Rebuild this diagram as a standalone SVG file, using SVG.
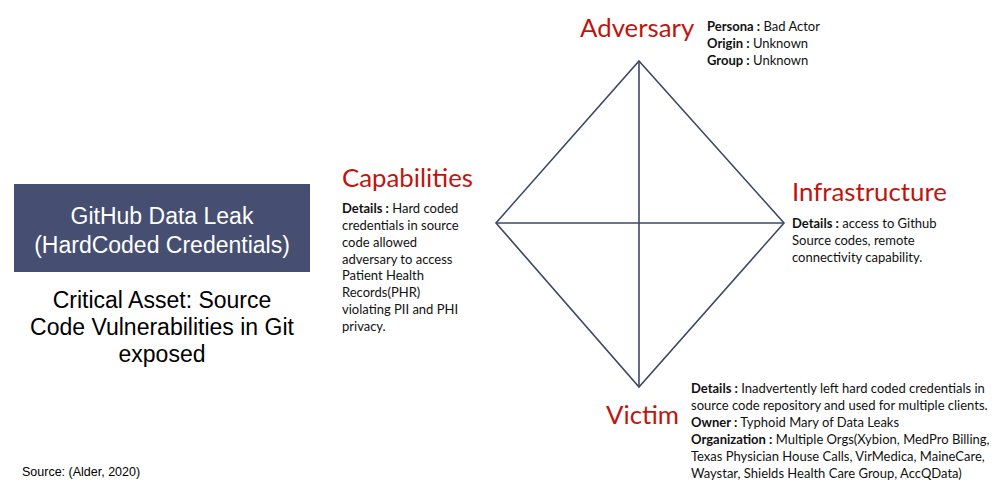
<svg xmlns="http://www.w3.org/2000/svg" width="1006" height="503" viewBox="0 0 1006 503">
<style>
.h{font-family:Lato,"Liberation Sans",sans-serif;fill:#C0150E;font-size:25.8px}
.d{font-family:Lato,"Liberation Sans",sans-serif;fill:#111;font-size:13px}
.b{font-weight:bold}
.a{font-family:"Liberation Sans",Arial,sans-serif}
.ln{stroke:#3C4768;stroke-width:1.6;fill:none}
</style>
<rect width="1006" height="503" fill="#fff"/>
<g id="connectors">
<polygon class="ln" points="639,61 784,223 639,387 496,223"/>
<line class="ln" x1="639" y1="61" x2="639" y2="387"/>
<line class="ln" x1="496" y1="223" x2="784" y2="223"/>
</g>
<g id="event">
<rect x="14" y="184" width="296" height="88" fill="#464F72"/>
<text class="a" x="162" y="224" font-size="23" fill="#fff" text-anchor="middle">GitHub Data Leak</text>
<text class="a" x="162" y="253" font-size="23" fill="#fff" text-anchor="middle">(HardCoded Credentials)</text>
</g>
<g id="asset">
<text class="a" x="162" y="308" font-size="23" fill="#000" text-anchor="middle">Critical Asset: Source</text>
<text class="a" x="162" y="335" font-size="23" fill="#000" text-anchor="middle">Code Vulnerabilities in Git</text>
<text class="a" x="162" y="362" font-size="23" fill="#000" text-anchor="middle">exposed</text>
</g>
<g id="adversary">
<text class="h" x="580" y="37">Adversary</text>
<text class="d" x="707" y="31"><tspan class="b">Persona :</tspan> Bad Actor</text>
<text class="d" x="707" y="48"><tspan class="b">Origin :</tspan> Unknown</text>
<text class="d" x="707" y="65"><tspan class="b">Group :</tspan> Unknown</text>
</g>
<g id="capabilities">
<text class="h" x="342" y="187">Capabilities</text>
<text class="d" x="342" y="213"><tspan class="b">Details :</tspan> Hard coded</text>
<text class="d" x="342" y="230">credentials in source</text>
<text class="d" x="342" y="247">code allowed</text>
<text class="d" x="342" y="264">adversary to access</text>
<text class="d" x="342" y="280">Patient Health</text>
<text class="d" x="342" y="297">Records(PHR)</text>
<text class="d" x="342" y="314">violating PII and PHI</text>
<text class="d" x="342" y="331">privacy.</text>
</g>
<g id="infrastructure">
<text class="h" x="792" y="201">Infrastructure</text>
<text class="d" x="792" y="228"><tspan class="b">Details :</tspan> access to Github</text>
<text class="d" x="792" y="245">Source codes, remote</text>
<text class="d" x="792" y="262">connectivity capability.</text>
</g>
<g id="victim">
<text class="h" x="606" y="424">Victim</text>
<text class="d" x="691" y="393"><tspan class="b">Details :</tspan> Inadvertently left hard coded credentials in</text>
<text class="d" x="691" y="410">source code repository and used for multiple clients.</text>
<text class="d" x="691" y="427"><tspan class="b">Owner :</tspan> Typhoid Mary of Data Leaks</text>
<text class="d" x="691" y="444"><tspan class="b">Organization :</tspan> Multiple Orgs(Xybion, MedPro Billing,</text>
<text class="d" x="691" y="461">Texas Physician House Calls, VirMedica, MaineCare,</text>
<text class="d" x="691" y="478">Waystar, Shields Health Care Group, AccQData)</text>
</g>
<g id="source">
<text class="a" x="22" y="476" font-size="12.5" fill="#000">Source: (Alder, 2020)</text>
</g>
</svg>
